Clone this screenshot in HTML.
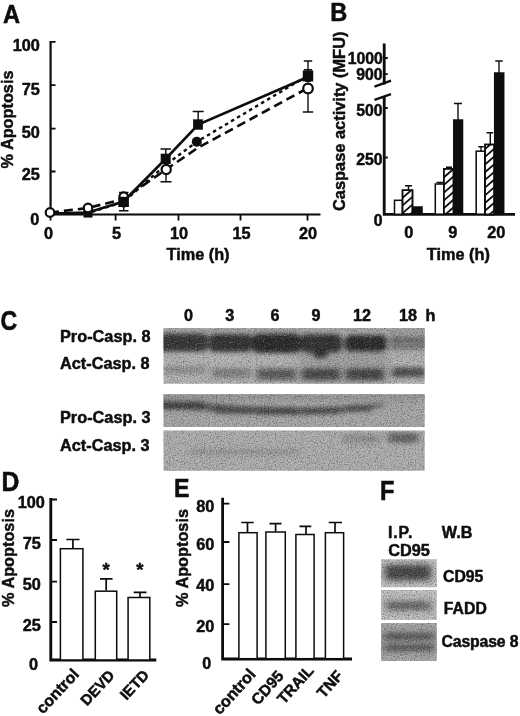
<!DOCTYPE html>
<html>
<head>
<meta charset="utf-8">
<title>Figure</title>
<style>
html,body{margin:0;padding:0;background:#fff;}
body{width:520px;height:716px;overflow:hidden;font-family:"Liberation Sans",sans-serif;}
svg{display:block;}
svg text{font-family:"Liberation Sans",sans-serif;font-weight:bold;fill:#0a0a0a;stroke:#0a0a0a;stroke-width:0.45;stroke-linejoin:round;}
.ax{stroke:#0a0a0a;stroke-width:2.2;fill:none;stroke-linecap:butt;}
.tk{stroke:#0a0a0a;stroke-width:1.8;fill:none;}
.eb{stroke:#0a0a0a;stroke-width:1.4;fill:none;}
.bar{stroke:#0a0a0a;stroke-width:1.5;}
.bw{fill:#fff;}
.bh{fill:#fff;}
.hl{stroke:#111;stroke-width:1.8;fill:none;}
.bk{fill:#0a0a0a;}
</style>
</head>
<body>
<svg width="520" height="716" viewBox="0 0 520 716">
<defs>
  <filter id="b1" x="-10%" y="-30%" width="120%" height="160%"><feGaussianBlur stdDeviation="2.4 1.9"/></filter>
  <filter id="b2" x="-10%" y="-30%" width="120%" height="160%"><feGaussianBlur stdDeviation="3 2.2"/></filter>
  <filter id="b3" x="-20%" y="-40%" width="140%" height="180%"><feGaussianBlur stdDeviation="4 3.5"/></filter>
  <filter id="soft" filterUnits="userSpaceOnUse" x="0" y="0" width="520" height="716"><feGaussianBlur stdDeviation="0.45"/></filter>
  <filter id="noise" x="0" y="0" width="100%" height="100%" color-interpolation-filters="sRGB">
    <feTurbulence type="fractalNoise" baseFrequency="0.85" numOctaves="2" seed="3" result="n"/>
    <feColorMatrix in="n" type="matrix" values="0 0 0 0 0  0 0 0 0 0  0 0 0 0 0  1.1 0 0 0 -0.53" result="dk"/>
    <feColorMatrix in="n" type="matrix" values="0 0 0 0 1  0 0 0 0 1  0 0 0 0 1  0 -0.9 0 0 0.43" result="lt"/>
    <feMerge><feMergeNode in="dk"/><feMergeNode in="lt"/></feMerge>
  </filter>
  <clipPath id="cC1"><rect x="163.500" y="328" width="261.200" height="55.700"/></clipPath>
  <clipPath id="cC2"><rect x="163.500" y="394.300" width="261.200" height="32.700"/></clipPath>
  <clipPath id="cC3"><rect x="163.500" y="430.500" width="261.200" height="40.200"/></clipPath>
  <clipPath id="cF1"><rect x="381.100" y="559.300" width="55.700" height="28"/></clipPath>
  <clipPath id="cF2"><rect x="381.100" y="590" width="55.700" height="30"/></clipPath>
  <clipPath id="cF3"><rect x="381.100" y="623" width="55.700" height="38"/></clipPath>
  <clipPath id="h1"><rect x="402.5" y="190.2" width="10" height="24"/></clipPath>
  <clipPath id="h2"><rect x="443.8" y="168.8" width="9.7" height="45.2"/></clipPath>
  <clipPath id="h3"><rect x="485" y="144.5" width="9.2" height="70"/></clipPath>
</defs>
<rect width="520" height="716" fill="#fff"/>
<g filter="url(#soft)">

<!-- ================= PANEL A ================= -->
<g id="pA">
<text transform="translate(3.0,22.5) scale(1.05,1.17)" font-size="22.5">A</text>
<path class="ax" d="M50.600 41 V214.500 M49.300 214.500 H320.500"/>
<path class="tk" d="M50 41.800 H55.500 M50 85.200 H55.500 M50 128.700 H55.500 M50 171.500 H55.500"/>
<path class="tk" d="M50.500 214 V220.500 M115.600 214 V220.500 M178.500 214 V220.500 M240.500 214 V220.500 M307.500 214 V220.500"/>
<g font-size="16.3" text-anchor="end">
<text x="39.800" y="51.300">100</text><text x="39.800" y="95">75</text><text x="39.800" y="138">50</text><text x="39.800" y="179.500">25</text><text x="39.300" y="225">0</text>
</g>
<g font-size="16.3" text-anchor="middle">
<text x="48.500" y="238.500">0</text><text x="116.500" y="238.500">5</text><text x="179" y="238.500">10</text><text x="241.500" y="238.500">15</text><text x="308" y="238.500">20</text>
</g>
<text x="198" y="260" font-size="16.3" text-anchor="middle">Time (h)</text>
<text transform="translate(12.500,119.500) rotate(-90)" font-size="16.3" text-anchor="middle">% Apoptosis</text>
<!-- lines -->
<polyline fill="none" stroke="#0a0a0a" stroke-width="2.6" stroke-dasharray="9 5" points="50,212.500 88,208 123.500,199 166,169.500 197.500,148 308,88"/>
<polyline fill="none" stroke="#0a0a0a" stroke-width="2.4" stroke-dasharray="3.5 3.5" points="50,213.500 88,213 123.500,202 165.500,165 196.800,141.800 308,75.500"/>
<polyline fill="none" stroke="#0a0a0a" stroke-width="2.6" points="50,213.500 88,212.500 123.500,201.500 165.500,159 198.200,124.500 308,77"/>
<!-- error bars -->
<path class="eb" d="M165.800 149 V160 M160.500 149 H171 M166 169 V181.800 M160.500 181.800 H171.500"/>
<path class="eb" d="M198.200 111.500 V125 M192.700 111.500 H203.700"/>
<path class="eb" d="M308 61 V77 M303.800 61 H312.200 M304 69.700 H312 M308 89 V112 M302.800 112 H313.200"/>
<path class="eb" d="M123.700 192.500 V210.700 M119 192.500 H128.500 M119 210.700 H128.500"/>
<!-- markers -->
<g fill="#fff" stroke="#0a0a0a" stroke-width="2.2">
<circle cx="123.700" cy="196.500" r="4.200"/>
</g>
<g fill="#0a0a0a" stroke="none">
<circle cx="88" cy="213" r="4"/><circle cx="123.700" cy="203" r="4.500"/><circle cx="196.800" cy="141.800" r="5"/><circle cx="308" cy="77" r="5.200"/>
<rect x="83.500" y="208.500" width="9" height="9"/>
<rect x="118.300" y="196.800" width="10.600" height="10.200"/>
<rect x="160.700" y="153.700" width="10" height="10.400"/>
<rect x="193.100" y="119.300" width="9.800" height="10.400"/>
<rect x="302.800" y="70.400" width="10.400" height="11"/>
</g>
<g fill="#fff" stroke="#0a0a0a" stroke-width="2.2">
<circle cx="50" cy="212.500" r="4.300"/><circle cx="88" cy="208" r="4.300"/><circle cx="166.200" cy="169.500" r="4.600"/><circle cx="308" cy="88.500" r="4.800"/>
</g>
</g>

<!-- ================= PANEL B ================= -->
<g id="pB">
<text transform="translate(330.2,21.3) scale(1.05,1.15)" font-size="22.5">B</text>
<path class="ax" style="stroke-width:2.8" d="M384.200 43.500 V84.500 M384.200 96 V214.300 M382.800 214.300 H515"/>
<path class="tk" style="stroke-width:2.3" d="M374.500 86.700 L391 80.700 M374.500 99.800 L391 94.200"/>
<path class="tk" d="M384 58 H387.800 M384 74.200 H387.800 M384 108 H387.800 M384 157.500 H387.800"/>
<g font-size="15.8" text-anchor="end">
<text x="382.800" y="63.800">1000</text><text x="382.500" y="80">900</text><text x="382.500" y="115.500">500</text><text x="382.500" y="165">250</text><text x="382.600" y="226.300">0</text>
</g>
<g font-size="16.3" text-anchor="middle">
<text x="408.700" y="237.500">0</text><text x="452.800" y="237.500">9</text><text x="496.200" y="237.500">20</text>
</g>
<text x="458.300" y="259.700" font-size="16.3" text-anchor="middle">Time (h)</text>
<text transform="translate(345.200,121.300) rotate(-90)" font-size="16.4" text-anchor="middle">Caspase activity (MFU)</text>
<!-- bars -->
<rect class="bar bw" x="394.500" y="200.300" width="8" height="14"/>
<rect class="bar bh" x="402.500" y="190.200" width="10" height="24"/>
<path class="hl" clip-path="url(#h1)" d="M401.5 191.0 L413.5 180.6 M401.5 198.7 L413.5 188.3 M401.5 206.4 L413.5 196.0 M401.5 214.1 L413.5 203.7 M401.5 221.8 L413.5 211.4"/>
<rect class="bar" style="fill:none" x="402.5" y="190.2" width="10" height="24"/>
<rect class="bar bk" x="412.500" y="207" width="9.500" height="7"/>
<path class="eb" d="M408.500 185.800 V190 M405 185.800 H412"/>
<rect class="bar bw" x="435.300" y="184" width="8.500" height="30.200"/>
<rect class="bar bh" x="443.800" y="168.800" width="9.700" height="45.200"/>
<path class="hl" clip-path="url(#h2)" d="M442.8 170.5 L454.5 160.3 M442.8 178.2 L454.5 168.0 M442.8 185.9 L454.5 175.7 M442.8 193.6 L454.5 183.4 M442.8 201.3 L454.5 191.1 M442.8 209.0 L454.5 198.8 M442.8 216.7 L454.5 206.5 M442.8 224.4 L454.5 214.2"/>
<rect class="bar" style="fill:none" x="443.8" y="168.8" width="9.7" height="45.2"/>
<rect class="bar bk" x="453.800" y="120" width="8.700" height="94"/>
<path class="eb" d="M458 103.500 V120 M454 103.500 H462 M440 182.500 V184 M436.500 182.500 H443 M449 167.500 V168.800 M446 167.300 H452"/>
<rect class="bar bw" x="476.200" y="151.200" width="8.800" height="63"/>
<rect class="bar bh" x="485" y="144.500" width="9.200" height="70"/>
<path class="hl" clip-path="url(#h3)" d="M484.0 150.0 L495.2 140.3 M484.0 157.7 L495.2 148.0 M484.0 165.4 L495.2 155.7 M484.0 173.1 L495.2 163.4 M484.0 180.8 L495.2 171.1 M484.0 188.5 L495.2 178.8 M484.0 196.2 L495.2 186.5 M484.0 203.9 L495.2 194.2 M484.0 211.6 L495.2 201.9 M484.0 219.3 L495.2 209.6"/>
<rect class="bar" style="fill:none" x="485" y="144.5" width="9.2" height="70"/>
<rect class="bar bk" x="494.700" y="73" width="9" height="141"/>
<path class="eb" d="M481 146.700 V151 M478.300 146.700 H483.700 M490.300 132.800 V144 M486.500 132.800 H493.200 M499 61 V73 M495.300 61 H502.700"/>
</g>

<!-- ================= PANEL C ================= -->
<g id="pC">
<text transform="translate(0.6,330.3) scale(1.03,1.22)" font-size="22.5">C</text>
<g font-size="16.2" text-anchor="middle">
<text x="188.500" y="321.400">0</text><text x="229.700" y="321.400">3</text><text x="275" y="321.400">6</text><text x="316" y="321.400">9</text><text x="362" y="321.400">12</text><text x="408" y="321.400">18</text><text x="430.500" y="321.400">h</text>
</g>
<g font-size="16.3">
<text x="60" y="341.500">Pro-Casp. 8</text><text x="60" y="368.500">Act-Casp. 8</text><text x="60" y="422.500">Pro-Casp. 3</text><text x="60" y="451">Act-Casp. 3</text>
</g>
<!-- blot 1 -->
<g clip-path="url(#cC1)">
<rect x="160" y="326" width="270" height="60" fill="#b2b2b2"/>
<rect x="160" y="326" width="270" height="7" fill="#a4a4a4" filter="url(#b2)"/>
<rect x="388" y="331" width="40" height="20" fill="#949494" filter="url(#b3)"/>
<rect x="298" y="340" width="90" height="44" fill="#a0a0a0" filter="url(#b3)"/>
<g filter="url(#b1)">
<rect x="158" y="333.500" width="50" height="18" rx="5" fill="#343434"/>
<rect x="209" y="334" width="43" height="18" rx="5" fill="#303030"/>
<rect x="252" y="333.500" width="49" height="19.500" rx="6" fill="#2c2c2c"/>
<rect x="300" y="334" width="42" height="18.500" rx="6" fill="#333"/>
<ellipse cx="320" cy="354" rx="7.500" ry="4.500" fill="#333"/>
<rect x="344.500" y="335" width="42.500" height="16.500" rx="6" fill="#2a2a2a"/>
</g>
<g filter="url(#b1)">
<rect x="390" y="338.300" width="36" height="3" fill="#4c4c4c"/>
<rect x="390" y="344.500" width="36" height="3" fill="#5a5a5a"/>
</g>
<g filter="url(#b2)">
<rect x="164" y="366" width="42" height="8" fill="#8e8e8e"/>
<rect x="212" y="368" width="38" height="10" fill="#828282"/>
<rect x="257" y="368.500" width="39" height="11.500" fill="#5c5c5c"/>
<rect x="302" y="368.500" width="38" height="11.500" fill="#484848"/>
<rect x="346" y="368.500" width="38" height="11.500" fill="#444"/>
<rect x="392" y="367.500" width="33" height="9.500" fill="#4e4e4e"/>
</g>
<rect x="160" y="326" width="270" height="60" filter="url(#noise)"/>
</g>
<!-- blot 2 -->
<g clip-path="url(#cC2)">
<rect x="160" y="392" width="270" height="37" fill="#a6a6a6"/>
<rect x="160" y="392" width="270" height="9" fill="#989898" filter="url(#b2)"/>
<g filter="url(#b1)">
<path d="M160 400.500 L200 402 L235 405.500 L285 407.500 L315 408 L350 405.500 L384 403.500 L384 407 L350 412 L315 414.500 L285 415 L235 413.500 L200 410.500 L160 408.500 Z" fill="#5a5a5a"/>
<rect x="162" y="401.500" width="42" height="8" rx="3" fill="#404040"/>
<rect x="214" y="406.500" width="38" height="7" rx="3" fill="#484848"/>
<rect x="256" y="407.500" width="42" height="7" rx="3" fill="#444"/>
<rect x="302" y="407.500" width="38" height="6.500" rx="3" fill="#484848"/>
<rect x="346" y="405.500" width="26" height="6" rx="3" fill="#4c4c4c"/>
</g>
<rect x="160" y="392" width="270" height="37" filter="url(#noise)"/>
</g>
<!-- blot 3 -->
<g clip-path="url(#cC3)">
<rect x="160" y="429" width="270" height="44" fill="#adadad"/>
<g filter="url(#b2)">
<rect x="190" y="449" width="110" height="6" fill="#969696"/>
<rect x="343" y="435" width="36" height="8" fill="#8e8e8e"/>
<rect x="388" y="433" width="30" height="10" fill="#666"/>
</g>
<rect x="160" y="429" width="270" height="44" filter="url(#noise)"/>
</g>
</g>

<!-- ================= PANEL D ================= -->
<g id="pD">
<text transform="translate(1.4,491.3) scale(1.1,1.2)" font-size="22.5">D</text>
<path class="ax" style="stroke-width:2.8" d="M50.800 498 V660 M49.400 660 H156.300"/>
<path class="tk" d="M51 499.500 H57 M51 540 H57 M51 581.700 H57 M51 622 H57"/>
<g font-size="16.3" text-anchor="end">
<text x="44.800" y="507.500">100</text><text x="40.800" y="548.700">75</text><text x="40.800" y="589.500">50</text><text x="40.800" y="630.700">25</text><text x="38" y="669.500">0</text>
</g>
<text transform="translate(14.200,558) rotate(-90)" font-size="16.3" text-anchor="middle">% Apoptosis</text>
<g style="stroke-width:1.9">
<rect class="bar bw" x="60.400" y="548.700" width="22.500" height="111.300"/>
<rect class="bar bw" x="95.300" y="591.200" width="21.400" height="68.800"/>
<rect class="bar bw" x="128.100" y="597.500" width="21.700" height="62.500"/>
</g>
<path class="eb" style="stroke-width:1.7" d="M72.900 539.500 V548 M66.300 539.500 H79.500 M106.200 578.800 V590.500 M100 578.800 H112.500 M140 592.300 V597 M133.700 592.300 H146.500"/>
<text x="106.200" y="576.300" font-size="18.500" text-anchor="middle">*</text>
<text x="139.800" y="576.300" font-size="18.500" text-anchor="middle">*</text>
<g font-size="16" text-anchor="end">
<text transform="translate(80,675) rotate(-47)">control</text>
<text transform="translate(115.500,676) rotate(-47)" font-size="15">DEVD</text>
<text transform="translate(149.800,675.700) rotate(-47)" font-size="15">IETD</text>
</g>
</g>

<!-- ================= PANEL E ================= -->
<g id="pE">
<text transform="translate(174.0,497.3) scale(1.03,1.17)" font-size="22.5">E</text>
<path class="ax" style="stroke-width:2.8" d="M222.600 497.700 V659 M221.200 659 H352"/>
<path class="tk" d="M222.500 503.700 H229.400 M222.500 542 H229.400 M222.500 584.200 H229.400 M222.500 624.200 H229.400"/>
<g font-size="16.3" text-anchor="end">
<text x="214.300" y="512">80</text><text x="214.300" y="549.700">60</text><text x="214.300" y="591">40</text><text x="214.300" y="631.700">20</text><text x="211.200" y="669" font-size="16">0</text>
</g>
<text transform="translate(187.600,558) rotate(-90)" font-size="16.3" text-anchor="middle">% Apoptosis</text>
<g style="stroke-width:1.9">
<rect class="bar bw" x="238.900" y="532.700" width="18.200" height="126"/>
<rect class="bar bw" x="265.900" y="532" width="19.400" height="126.700"/>
<rect class="bar bw" x="295.900" y="534.500" width="18.200" height="124.200"/>
<rect class="bar bw" x="325.400" y="532.700" width="18.200" height="126"/>
</g>
<path class="eb" style="stroke-width:1.7" d="M247.500 522.500 V532 M241.300 522.500 H253.700 M275.600 523.700 V531.500 M269.500 523.700 H281.500 M306 526.300 V534 M299.500 526.300 H311.300 M335 522.500 V532 M328.700 522.500 H342"/>
<g font-size="15.5" text-anchor="end">
<text transform="translate(256.500,674.800) rotate(-48)" font-size="16.2">control</text>
<text transform="translate(284.500,676.500) rotate(-48)">CD95</text>
<text transform="translate(314.500,671.200) rotate(-48)">TRAIL</text>
<text transform="translate(343.800,676.500) rotate(-48)">TNF</text>
</g>
</g>

<!-- ================= PANEL F ================= -->
<g id="pF">
<text transform="translate(379.9,500.4) scale(1.05,1.2)" font-size="22.5">F</text>
<g font-size="15.8">
<text x="388" y="537.600" letter-spacing="0.9">I.P.</text><text x="388.300" y="556" font-size="16.3">CD95</text><text x="441.800" y="537.600" font-size="16.2">W.B</text>
<text x="443" y="581.800">CD95</text><text x="443.800" y="613.900">FADD</text><text x="441.500" y="647.300" textLength="77" lengthAdjust="spacing">Caspase 8</text>
</g>
<g clip-path="url(#cF1)">
<rect x="380" y="558" width="58" height="31" fill="#c6c6c6"/>
<rect x="383" y="562" width="50" height="21" fill="#9a9a9a" filter="url(#b3)"/>
<rect x="386" y="565.500" width="44" height="14" rx="4" fill="#464646" filter="url(#b2)"/>
<rect x="380" y="558" width="58" height="31" filter="url(#noise)"/>
</g>
<g clip-path="url(#cF2)">
<rect x="380" y="589" width="58" height="32" fill="#c4c4c4"/>
<rect x="383" y="597" width="50" height="17" fill="#a4a4a4" filter="url(#b3)"/>
<rect x="387" y="602" width="43" height="7.500" rx="3" fill="#666" filter="url(#b2)"/>
<rect x="380" y="589" width="58" height="32" filter="url(#noise)"/>
</g>
<g clip-path="url(#cF3)">
<rect x="380" y="622" width="58" height="40" fill="#a8a8a8"/>
<rect x="382" y="629" width="54" height="25" fill="#8c8c8c" filter="url(#b3)"/>
<rect x="385" y="633.500" width="48" height="6" fill="#545454" filter="url(#b2)"/>
<rect x="385" y="644.500" width="48" height="6" fill="#5a5a5a" filter="url(#b2)"/>
<rect x="380" y="622" width="58" height="40" filter="url(#noise)"/>
</g>
</g>
</g>
</svg>
</body>
</html>
